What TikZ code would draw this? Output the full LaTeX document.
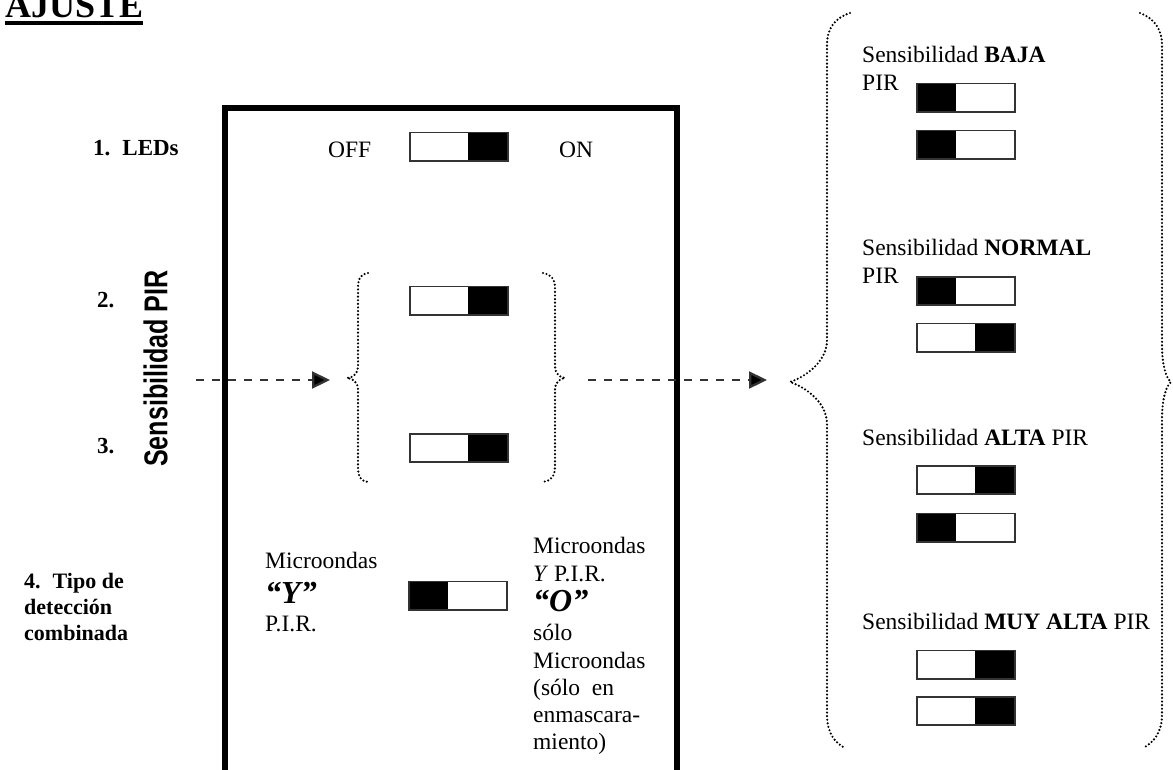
\documentclass[tikz,border=0pt]{standalone}
\usepackage{fontspec}
\setmainfont{Liberation Serif}
\setsansfont{Liberation Sans}
\usetikzlibrary{arrows.meta}

% one DIP switch: name, x, y, side of the black slider (l or r)
\newcommand\dipsw[4]{%
  \node[swbox] (#1) at (#2,#3) {};
  \ifx l#4\fill (#1.north west) rectangle ([xshift=39pt]#1.south west);
  \else\fill ([xshift=-40pt]#1.north east) rectangle (#1.south east);\fi
  \draw[swline] (#1.north west) rectangle (#1.south east);}

\begin{document}
\begin{tikzpicture}[x=1pt,y=-1pt,
  txt/.style={anchor=base west, inner sep=0pt, font=\fontsize{23.5}{28}\selectfont},
  lbl/.style={anchor=base west, inner sep=0pt, font=\bfseries\fontsize{23}{26}\selectfont},
  big/.style={anchor=base west, inner sep=0pt, font=\bfseries\itshape\fontsize{32}{34}\selectfont},
  swbox/.style={draw=none, minimum width=98pt, minimum height=28pt, inner sep=0pt},
  swline/.style={draw=black!80, line width=1.6pt},
  frame/.style={line width=6pt},
  dasharrow/.style={draw=black!80, line width=2.3pt, dash pattern=on 8pt off 8pt,
    -{Triangle[length=18pt,width=17pt,fill=black]}},
  dotbrace/.style={draw=black, line width=2.4pt, line cap=round, dash pattern=on 0pt off 3.6pt}]
\useasboundingbox (0,0) rectangle (1173,769);
\clip (0,0) rectangle (1173,769);

% title
\node[anchor=base west, inner sep=0pt, font=\bfseries\fontsize{36}{40}\selectfont] (title) at (5,17) {AJUSTE};
\draw[line width=4pt] ([yshift=-6pt]title.base west) -- ([yshift=-6pt]title.base east);

% setting labels on the left
\node[lbl] (l1) at (93,155) {1.\hspace{12pt}LEDs};
\node[lbl] (l2) at (97,307) {2.};
\node[lbl] (l3) at (97,453) {3.};
\node[lbl, font=\bfseries\fontsize{22}{26}\selectfont] (l4a) at (24,588) {4.\hspace{12pt}Tipo de};
\node[lbl, font=\bfseries\fontsize{22}{26}\selectfont] (l4b) at (24,614) {detección};
\node[lbl, font=\bfseries\fontsize{22}{26}\selectfont] (l4c) at (24,640) {combinada};
\node[rotate=90, inner sep=0pt, font=\sffamily\bfseries\fontsize{33}{36}\selectfont] (senspir)
  at (155.5,368.5) {\scalebox{0.76}[1]{Sensibilidad PIR}};

% switch block frame (open at the bottom)
\draw[frame] (225,800) -- (225,108) -- (677,108) -- (677,800);

% switch 1
\node[txt] (off) at (328,157) {OFF};
\node[txt] (on) at (559,157) {ON};
\dipsw{sw1}{459}{146.5}{r}

% switches 2 and 3 with their brace
\dipsw{sw2}{459}{300.5}{r}
\dipsw{sw3}{459}{448}{r}
\draw[dotbrace] (368,273) .. controls (361,274) and (358,278) .. (358,288) -- (358,367)
  .. controls (358,373) and (353,378) .. (347,378) .. controls (353,378) and (358,383) .. (358,389)
  -- (358,467) .. controls (358,477) and (361,481) .. (368,482);
\draw[dotbrace] (543,273) .. controls (550,274) and (555,278) .. (555,288) -- (555,367)
  .. controls (555,373) and (560,378) .. (565,378) .. controls (560,378) and (555,383) .. (555,389)
  -- (555,467) .. controls (555,477) and (550,481) .. (543,482);

% switch 4
\dipsw{sw4}{458}{595.5}{l}
\node[txt] (yl1) at (265,568) {Microondas};
\node[big] (yl2) at (265,603) {“Y”};
\node[txt] (yl3) at (265,631) {P.I.R.};
\node[txt] (or1) at (533,553) {Microondas};
\node[txt] (or2) at (533,581) {\textit{Y} P.I.R.};
\node[big] (or3) at (533,611) {“O”};
\node[txt] (or4) at (533,640) {sólo};
\node[txt] (or5) at (533,668) {Microondas};
\node[txt] (or6) at (533,695) {(sólo\ \ en};
\node[txt] (or7) at (533,722) {enmascara-};
\node[txt] (or8) at (533,749) {miento)};

% dashed arrows
\coordinate (a1s) at (196,380);
\coordinate (a1e) at (330,380);
\coordinate (a2s) at (588,380);
\coordinate (a2e) at (767,380);
\draw[dasharrow] (a1s) -- (a1e);
\draw[dasharrow] (a2s) -- (a2e);

% sensitivity table with its large brace
\draw[dotbrace] (850,13) .. controls (835,18) and (827,28) .. (827,45) -- (827,340)
  .. controls (827,362) and (805,377) .. (790,382) .. controls (805,387) and (827,402) .. (827,424)
  -- (827,715) .. controls (827,733) and (835,743) .. (845,748);
\draw[dotbrace] (1140,13) .. controls (1153,18) and (1162,28) .. (1162,45) -- (1162,345)
  .. controls (1162,365) and (1166,378) .. (1171,382) .. controls (1166,386) and (1162,399) .. (1162,419)
  -- (1162,715) .. controls (1162,733) and (1153,743) .. (1143,748);

\node[txt] (baja) at (862,62) {Sensibilidad \textbf{BAJA}};
\node[txt] (bajap) at (862,90) {PIR};
\dipsw{sa1}{966}{97.5}{l}
\dipsw{sa2}{966}{144.5}{l}

\node[txt] (norm) at (862,255) {Sensibilidad \textbf{NORMAL}};
\node[txt] (normp) at (862,283) {PIR};
\dipsw{sb1}{966}{291}{l}
\dipsw{sb2}{966}{337.5}{r}

\node[txt] (alta) at (862,445) {Sensibilidad \textbf{ALTA} PIR};
\dipsw{sc1}{966}{480}{r}
\dipsw{sc2}{966}{527.5}{l}

\node[txt] (muy) at (862,629) {Sensibilidad \textbf{MUY ALTA} PIR};
\dipsw{sd1}{966}{664.5}{r}
\dipsw{sd2}{966}{711}{r}
\end{tikzpicture}
\end{document}
